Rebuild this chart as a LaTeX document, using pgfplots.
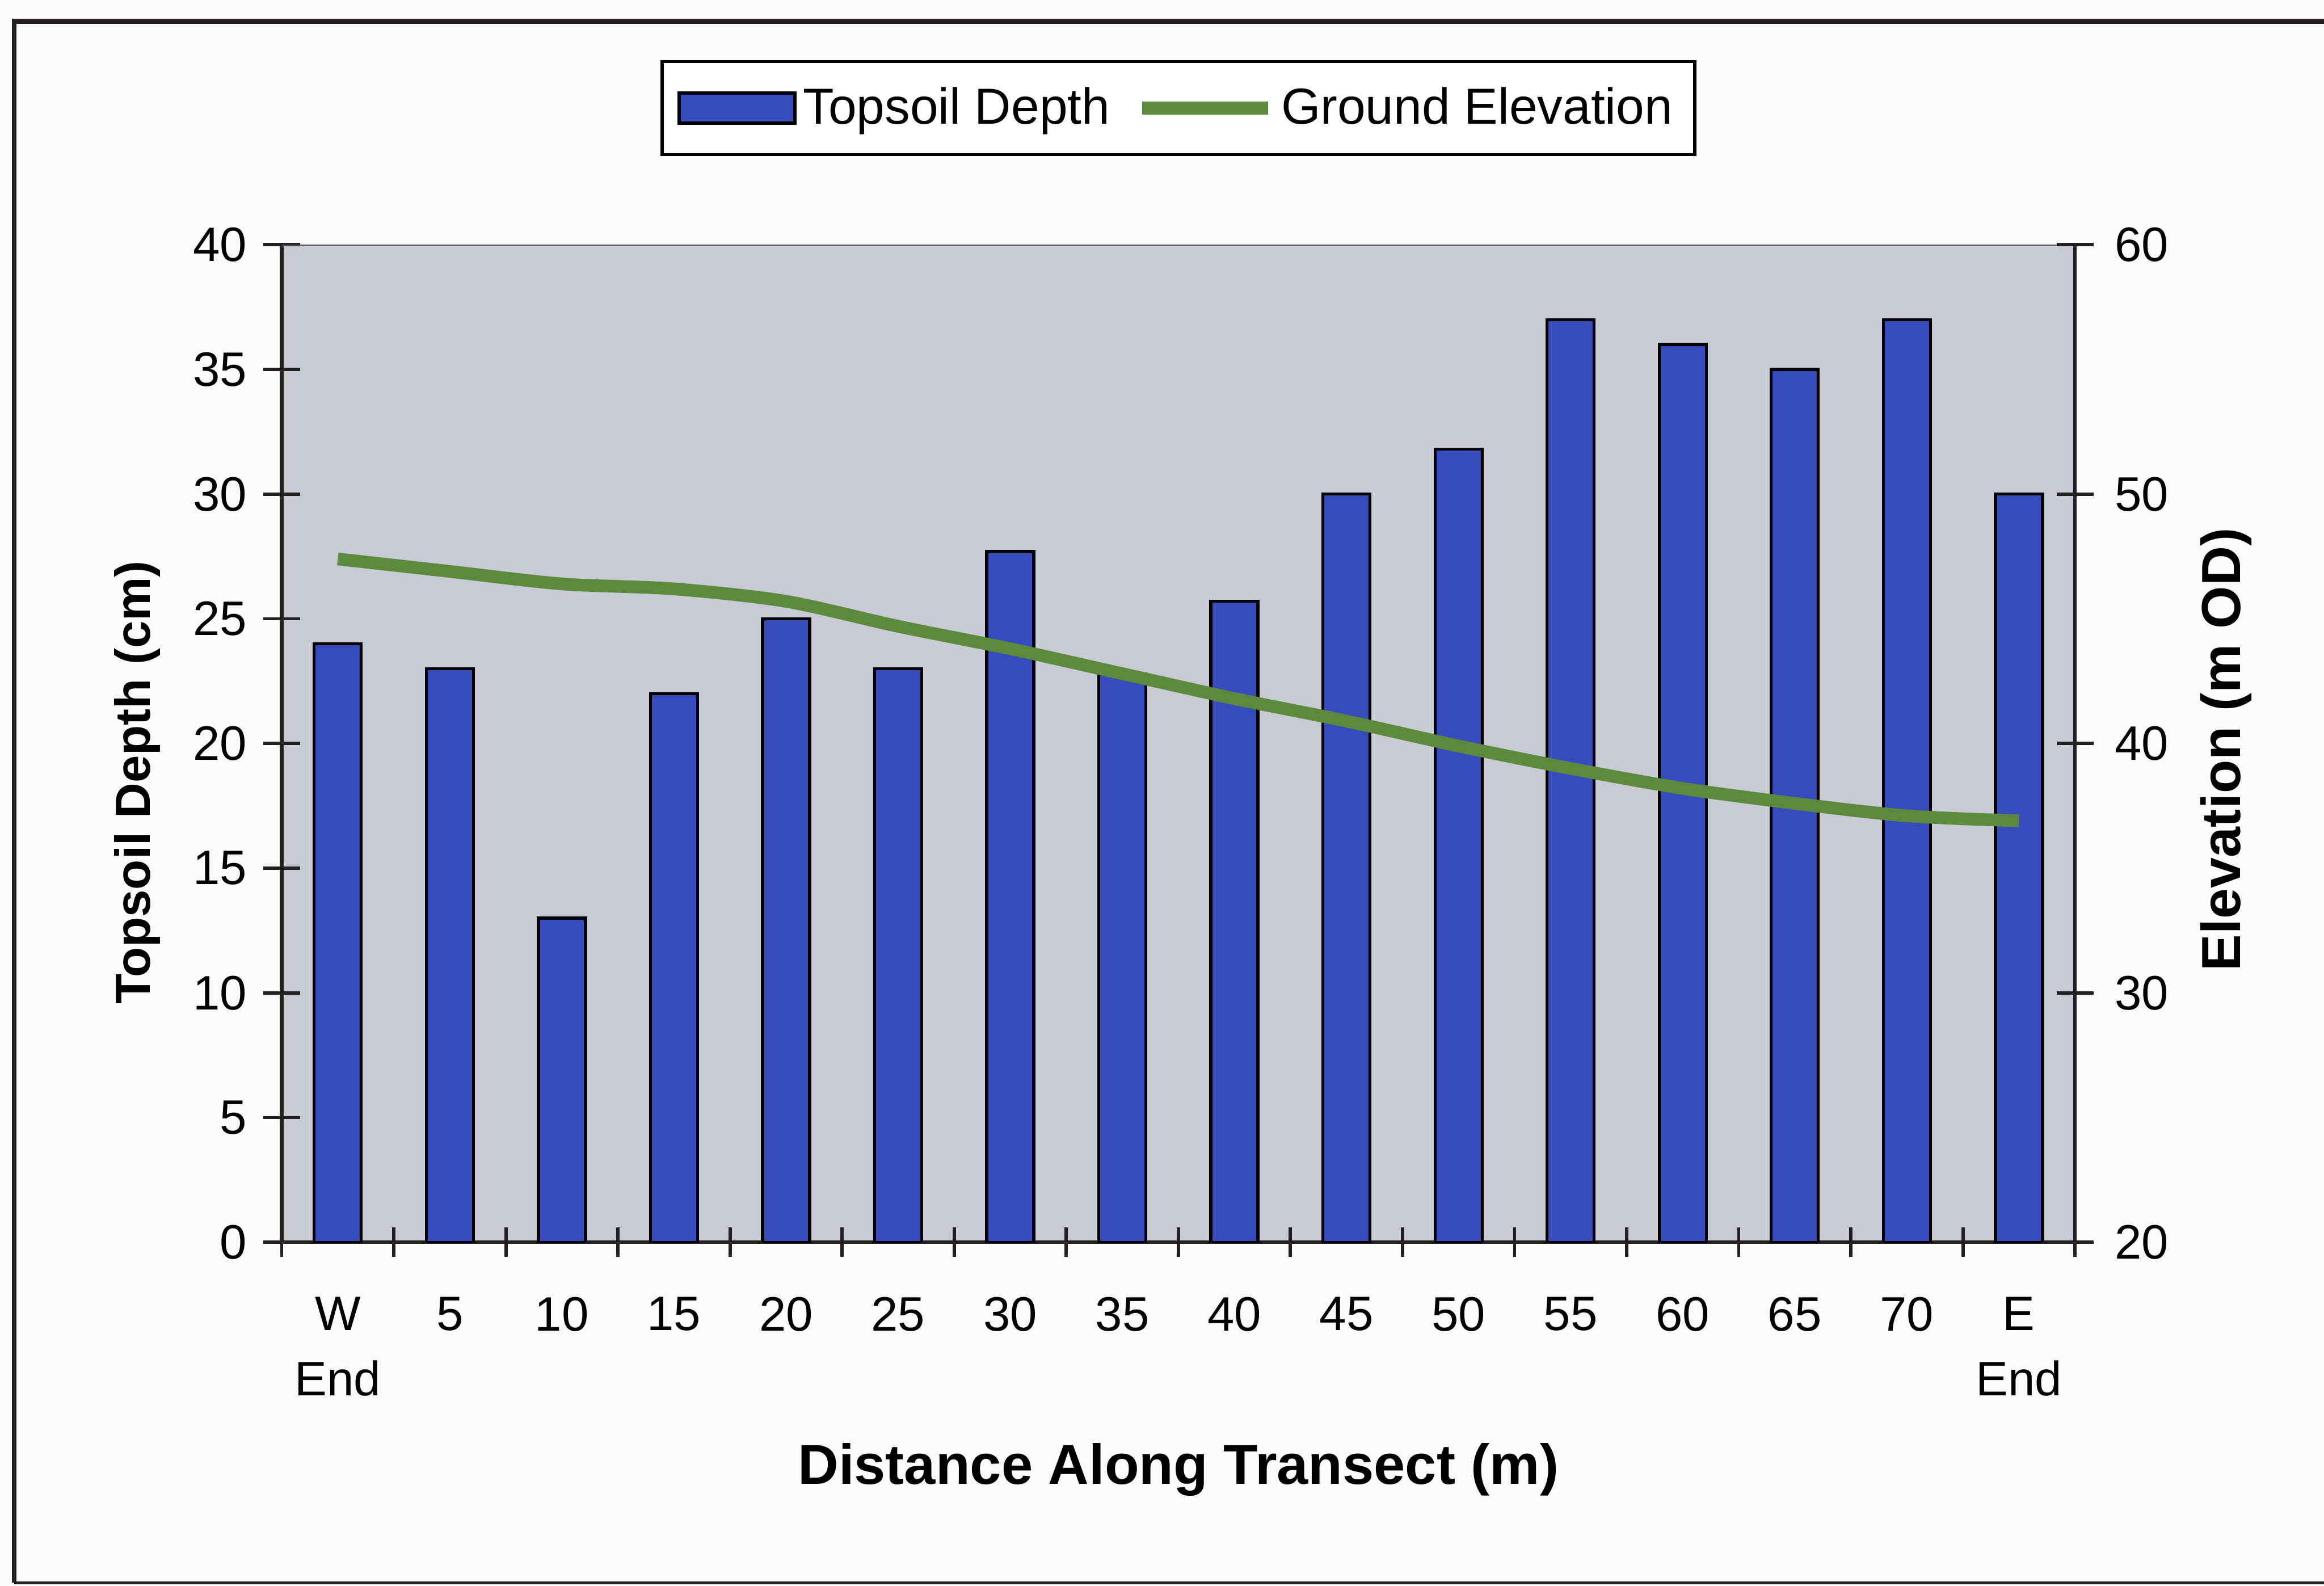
\documentclass[border=0pt]{standalone}
\usepackage{fontspec}
\setmainfont{Liberation Sans}
\usepackage{pgfplots}
\usepackage{pgfplotstable}
\pgfplotsset{compat=1.18}

\definecolor{plotbg}{HTML}{C8CBD3}
\definecolor{barblue}{HTML}{374CBC}
\definecolor{elevgreen}{HTML}{5B8A3C}
\definecolor{pagebg}{HTML}{FAFBFD}
\definecolor{framecol}{HTML}{231F20}

% transect stations: topsoil depth (cm) and ground elevation (m OD)
\pgfplotstableread{
pos depth elev
0  24   47.4
1  23   46.9
2  13   46.4
3  22   46.2
4  25   45.7
5  23   44.7
6  27.7 43.8
7  22.8 42.8
8  25.7 41.8
9  30   40.9
10 31.8 39.9
11 37   39.0
12 36   38.2
13 35   37.6
14 37   37.1
15 30   36.9
}\transect

\pgfplotsset{
  transect frame/.style={
    at={(2.97cm,3.62cm)}, anchor=south west,
    width=18.905cm, height=10.515cm, scale only axis,
    xmin=-0.5, xmax=15.5,
    tick align=center,
    major tick length=0.39cm,
    minor tick length=0.31cm,
    tick style={draw=framecol, line width=1pt},
    axis line style={draw=framecol, line width=1.1pt},
    /pgf/number format/assume math mode=true,
    ticklabel style={font=\fontsize{14.5}{19.5}\selectfont},
  },
  barlegend/.style={legend image code/.code={%
    \draw[##1] (0cm,-0.16cm) rectangle (1.22cm,0.16cm);}},
  linelegend/.style={legend image code/.code={%
    \draw[##1] (0cm,0cm) -- (1.33cm,0cm);}},
}

\begin{document}
\begin{tikzpicture}
\fill[pagebg] (0,0) rectangle (24.5,16.715);
\path[use as bounding box] (0,0) rectangle (24.5,16.715);
\draw[framecol, line width=1.5pt] (0.15,0.03) -- (0.15,16.49) -- (24.5,16.49);
\draw[framecol, line width=0.8pt] (0.15,0.03) -- (24.5,0.03);

% topsoil depth bars on the left axis
\begin{axis}[
  transect frame,
  ymin=0, ymax=40,
  ytick={0,5,...,40},
  axis background/.style={fill=plotbg},
  axis x line*=bottom, axis y line*=left,
  xtick={0,...,15},
  xticklabels={{W\\End},5,10,15,20,25,30,35,40,45,50,55,60,65,70,{E\\End}},
  major x tick style={draw=none},
  minor xtick={-0.5,0.5,...,15.5},
  xticklabel style={align=center, yshift=-0.26cm},
  yticklabel style={xshift=-0.05cm},
  xlabel={\bfseries Distance Along Transect (m)},
  xlabel style={at={(axis description cs:0.5,-0.228)}, anchor=center,
    font=\fontsize{16.9}{20}\selectfont},
  ylabel={\bfseries Topsoil Depth (cm)},
  ylabel style={at={(axis description cs:-0.0804,0.461)}, anchor=center,
    font=\fontsize{14.8}{17}\selectfont},
]
\draw[gray!60!black, line width=0.6pt] (rel axis cs:0,1) -- (rel axis cs:1,1);
\addplot[ybar, bar width=0.42, fill=barblue, draw=black, line width=0.9pt]
  table[x=pos, y=depth] {\transect};
\end{axis}

% ground elevation line on the right axis
\begin{axis}[
  transect frame,
  ymin=20, ymax=60,
  ytick={20,30,...,60},
  axis x line=none, axis y line*=right,
  yticklabel style={xshift=0.1cm},
  ylabel={\bfseries Elevation (m OD)},
  ylabel style={at={(axis description cs:1.0844,0.494)}, anchor=center,
    font=\fontsize{16.5}{19}\selectfont},
  legend columns=2,
  legend style={at={(0.5,1.137)}, anchor=center, draw=black, line width=1pt,
    fill=white, font=\fontsize{15.2}{18}\selectfont,
    inner xsep=0.16cm, inner ysep=0.2cm,
    /tikz/every even column/.append style={column sep=0.2cm}},
]
\addlegendimage{barlegend, fill=barblue, draw=black, line width=1pt}
\addlegendentry{Topsoil Depth}
\addplot[linelegend, elevgreen, line width=3.8pt, smooth, tension=0.5]
  table[x=pos, y=elev] {\transect};
\addlegendentry{Ground Elevation}
\end{axis}
\end{tikzpicture}
\end{document}
